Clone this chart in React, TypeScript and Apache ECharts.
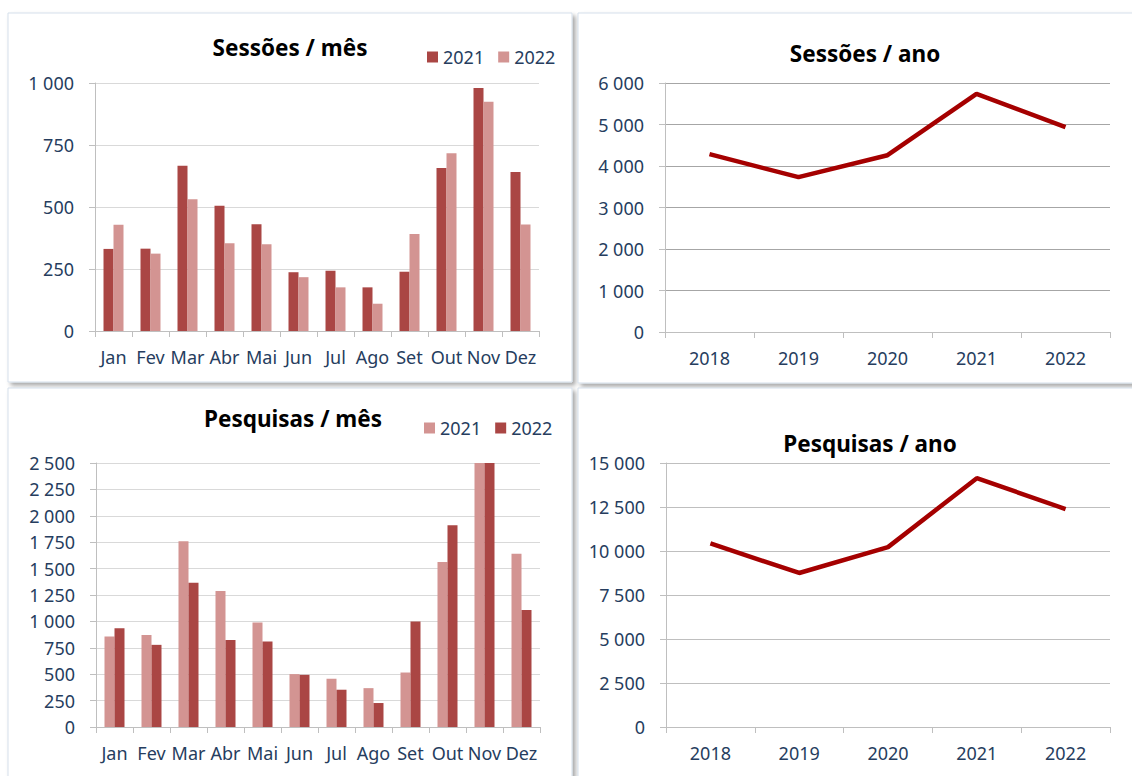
import React, { useEffect, useRef } from "react";
import * as echarts from "echarts";

const months = ["Jan", "Fev", "Mar", "Abr", "Mai", "Jun", "Jul", "Ago", "Set", "Out", "Nov", "Dez"];
const years = ["2018", "2019", "2020", "2021", "2022"];

const sessoes2021 = [331, 332, 666, 505, 430, 237, 243, 176, 239, 657, 980, 641];
const sessoes2022 = [428, 312, 531, 354, 350, 217, 176, 110, 391, 717, 924, 429];
const sessoesAno = [4285, 3732, 4260, 5736, 4938];

const pesquisas2021 = [856, 872, 1760, 1288, 989, 501, 457, 368, 516, 1562, 2500, 1640];
const pesquisas2022 = [935, 778, 1367, 825, 809, 494, 353, 227, 998, 1911, 2500, 1108];
const pesquisasAno = [10430, 8751, 10220, 14138, 12385];

const titles = ["Sessões / mês", "Sessões / ano", "Pesquisas / mês", "Pesquisas / ano"];

const FONT = "'Noto Sans', 'DejaVu Sans', sans-serif";
const LABEL = "#263D5E";
const DARK = "#AA4644";
const LIGHT = "#D39492";
const LINE = "#A50000";

const fmt = (v: number) => String(v).replace(/\B(?=(\d{3})+(?!\d))/g, " ");

export default function App() {
  const ref = useRef<HTMLDivElement>(null);
  useEffect(() => {
    if (!ref.current) return;
    const chart = echarts.init(ref.current, undefined, { renderer: "svg" });

    const card = (x: number, y: number, w: number, h: number) => ({
      type: "rect",
      z: -100,
      shape: { x, y, width: w, height: h },
      style: {
        fill: "#ffffff",
        stroke: "#D5DFEB",
        lineWidth: 1,
        shadowBlur: 4,
        shadowOffsetX: 3,
        shadowOffsetY: 3,
        shadowColor: "rgba(0,0,0,0.35)",
      },
    });
    const titleText = (text: string, x: number, y: number) => ({
      type: "text",
      z: 10,
      x,
      y,
      style: {
        text,
        fill: "#000000",
        font: `bold 22.5px ${FONT}`,
        textAlign: "center",
        textVerticalAlign: "middle",
      },
    });

    const grids = [
      { left: 95, top: 83, width: 444, height: 248 },
      { left: 665, top: 83, width: 445, height: 249 },
      { left: 96, top: 463, width: 444, height: 264 },
      { left: 666, top: 463, width: 444, height: 264 },
    ];

    const xAxisBase = {
      type: "category",
      boundaryGap: true,
      axisLine: { lineStyle: { color: "#BFBFBF", width: 1 } },
      axisTick: { show: true, length: 6, alignWithLabel: false, lineStyle: { color: "#BFBFBF" } },
      axisLabel: { color: LABEL, fontFamily: FONT, fontSize: 18, margin: 17, interval: 0 },
      splitLine: { show: false },
    };
    const yAxisBase = (max: number, interval: number, gridColor: string) => ({
      type: "value",
      min: 0,
      max,
      interval,
      axisLine: { show: true, lineStyle: { color: "#BFBFBF", width: 1 } },
      axisTick: { show: true, length: 6, lineStyle: { color: "#BFBFBF" } },
      axisLabel: { color: LABEL, fontFamily: FONT, fontSize: 18, margin: 21, formatter: (v: number) => fmt(v) },
      splitLine: { show: true, lineStyle: { color: gridColor, width: 1 } },
    });

    const legendBase = {
      icon: "rect",
      itemWidth: 11,
      itemHeight: 11,
      itemGap: 14,
      orient: "horizontal",
      selectedMode: false,
      formatter: (name: string) => name.slice(-4),
      textStyle: { color: LABEL, fontFamily: FONT, fontSize: 18 },
    };

    chart.setOption({
      animation: false,
      backgroundColor: "#ffffff",
      graphic: [
        card(8, 13, 564, 369),
        card(578, 13, 570, 370),
        card(8, 388, 564, 400),
        card(578, 388, 570, 400),
        titleText(titles[0], 290, 47),
        titleText(titles[1], 865, 53),
        titleText(titles[2], 293, 418),
        titleText(titles[3], 870, 443),
      ],
      legend: [
        { ...legendBase, left: 422, top: 43, data: ["S 2021", "S 2022"] },
        { ...legendBase, left: 419, top: 414, data: ["P 2021", "P 2022"] },
      ],
      grid: grids,
      xAxis: [
        { ...xAxisBase, gridIndex: 0, data: months },
        { ...xAxisBase, gridIndex: 1, data: years },
        { ...xAxisBase, gridIndex: 2, data: months },
        { ...xAxisBase, gridIndex: 3, data: years },
      ],
      yAxis: [
        { ...yAxisBase(1000, 250, "#D9D9D9"), gridIndex: 0 },
        { ...yAxisBase(6000, 1000, "#A6A6A6"), gridIndex: 1 },
        { ...yAxisBase(2500, 250, "#D9D9D9"), gridIndex: 2 },
        { ...yAxisBase(15000, 2500, "#BFBFBF"), gridIndex: 3 },
      ],
      series: [
        {
          name: "S 2021",
          type: "bar",
          xAxisIndex: 0,
          yAxisIndex: 0,
          data: sessoes2021,
          barWidth: 10,
          barGap: "0%",
          itemStyle: { color: DARK },
        },
        {
          name: "S 2022",
          type: "bar",
          xAxisIndex: 0,
          yAxisIndex: 0,
          data: sessoes2022,
          barWidth: 10,
          barGap: "0%",
          itemStyle: { color: LIGHT },
        },
        {
          name: "Sessões / ano",
          type: "line",
          xAxisIndex: 1,
          yAxisIndex: 1,
          data: sessoesAno,
          symbol: "none",
          lineStyle: { color: LINE, width: 4.5 },
        },
        {
          name: "P 2021",
          type: "bar",
          xAxisIndex: 2,
          yAxisIndex: 2,
          data: pesquisas2021,
          barWidth: 10,
          barGap: "0%",
          itemStyle: { color: LIGHT },
        },
        {
          name: "P 2022",
          type: "bar",
          xAxisIndex: 2,
          yAxisIndex: 2,
          data: pesquisas2022,
          barWidth: 10,
          barGap: "0%",
          itemStyle: { color: DARK },
        },
        {
          name: "Pesquisas / ano",
          type: "line",
          xAxisIndex: 3,
          yAxisIndex: 3,
          data: pesquisasAno,
          symbol: "none",
          lineStyle: { color: LINE, width: 4.5 },
        },
      ],
    });

    return () => chart.dispose();
  }, []);

  return (
    <div
      ref={ref}
      style={{ position: "absolute", left: 0, top: 0, width: 1132, height: 776, background: "#ffffff" }}
    />
  );
}
